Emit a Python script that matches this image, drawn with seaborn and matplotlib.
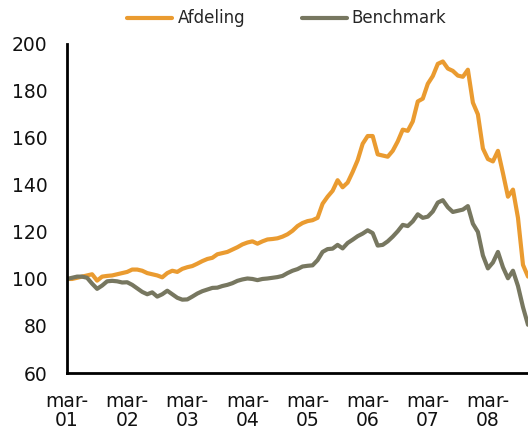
import matplotlib
matplotlib.use("Agg")
import matplotlib.pyplot as plt
import seaborn as sns
import pandas as pd

# monthly index values, mar-01 .. nov-08
afdeling = [
  100, 100, 100.5, 101, 101.5, 102, 99.3, 101, 101.3, 101.5, 102, 102.5,
  103, 104, 104, 103.5, 102.5, 102, 101.5, 100.7, 102.5, 103.5, 103, 104.3,
  105, 105.5, 106.5, 107.6, 108.5, 109, 110.5, 111, 111.5, 112.5, 113.5, 114.7,
  115.5, 116, 115, 116, 116.8, 117, 117.3, 118, 119, 120.5, 122.5, 123.8,
  124.6, 125, 126, 132, 135, 137.5, 142, 139, 141, 145.5, 150.5, 157.5,
  160.8, 160.8, 153, 152.5, 152, 154.5, 158.5, 163.5, 163, 167, 175.5, 176.7,
  183, 186.3, 191.5, 192.5, 189.5, 188.5, 186.5, 186, 189, 175, 170, 155.5,
  151, 150, 154.5, 145, 135, 138, 126, 106, 101,
]
benchmark = [
  100, 100.5, 101, 101, 100.5, 98, 95.8, 97.2, 99, 99.2, 99, 98.5,
  98.6, 97.5, 96, 94.5, 93.5, 94.3, 92.5, 93.5, 95, 93.5, 92, 91.2,
  91.3, 92.5, 93.8, 94.8, 95.5, 96.2, 96.3, 97, 97.5, 98.2, 99.2, 99.8,
  100.2, 100, 99.5, 100, 100.2, 100.5, 100.8, 101.3, 102.5, 103.5, 104.2, 105.3,
  105.6, 105.8, 108, 111.5, 112.7, 112.9, 114.5, 113, 115.3, 116.7, 118.2, 119.3,
  120.7, 119.5, 114.2, 114.5, 116, 118, 120.3, 123, 122.5, 124.5, 127.5, 126,
  126.5, 128.7, 132.5, 133.5, 130.5, 128.5, 129, 129.5, 131, 123.5, 120, 110,
  104.5, 107, 111.5, 105, 100.3, 103.5, 97, 88, 80.5,
]
tick_labels = ["mar-\n01", "mar-\n02", "mar-\n03", "mar-\n04",
               "mar-\n05", "mar-\n06", "mar-\n07", "mar-\n08"]

months = list(range(len(afdeling)))
df = pd.DataFrame({
  "month": months + months,
  "value": afdeling + benchmark,
  "serie": ["Afdeling"] * len(afdeling) + ["Benchmark"] * len(benchmark),
})

sns.set_style("white")
plt.rcParams["font.family"] = ["DejaVu Sans"]

fig = plt.figure(figsize=(5.28, 4.43), dpi=100)
ax = fig.add_axes([0.127, 0.158, 0.873, 0.743])

sns.lineplot(data=df, x="month", y="value", hue="serie",
             palette=["#EA9B30", "#777760"], linewidth=3, ax=ax)

ax.set_xlim(0, 92)
ax.set_ylim(60, 200)
ax.set_yticks(range(60, 201, 20))
ax.set_xticks(range(0, 85, 12))
ax.set_xticklabels(tick_labels, linespacing=1.0)
ax.set_xlabel("")
ax.set_ylabel("")

for side in ["top", "right"]:
  ax.spines[side].set_visible(False)
for side in ["left", "bottom"]:
  ax.spines[side].set_linewidth(2)
  ax.spines[side].set_color("black")

ax.tick_params(axis="y", direction="out", length=4, width=2, pad=10,
               labelsize=13.5, colors="black")
ax.tick_params(axis="x", direction="out", length=5, width=2, pad=9,
               labelsize=13.5, colors="black")
for lbl in ax.get_yticklabels() + ax.get_xticklabels():
  lbl.set_color("#111111")

ax.legend(loc="upper center", bbox_to_anchor=(0.477, 1.15), ncol=2,
          frameon=False, fontsize=12, handlelength=2.7, handletextpad=0.3,
          columnspacing=3.4)

fig.savefig("out.png", dpi=100)
